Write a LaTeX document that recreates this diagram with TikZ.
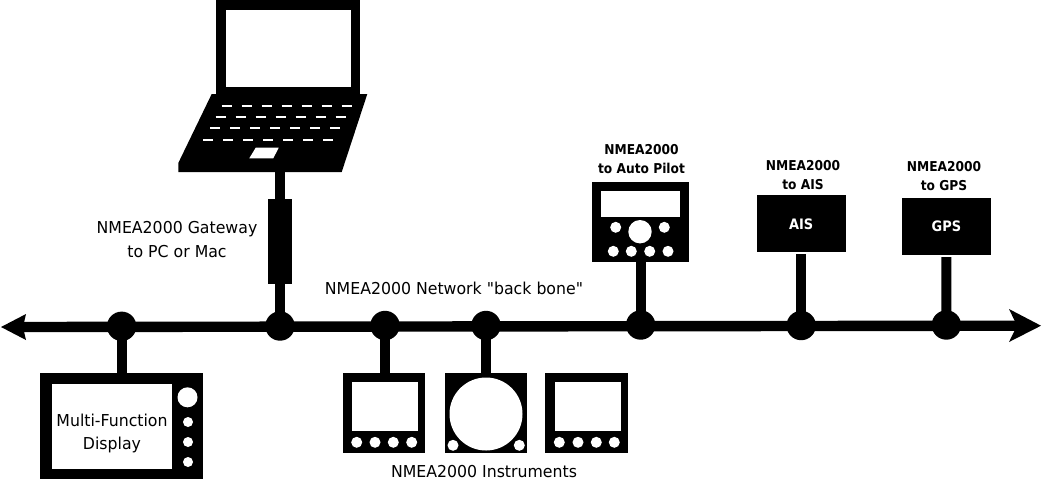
\documentclass[tikz,border=0pt]{standalone}
\usepackage{fontspec}
\setmainfont{DejaVu Sans}
\newfontfamily\lab[FakeStretch=0.96]{DejaVu Sans}
\newfontfamily\blab[FakeStretch=0.9]{DejaVu Sans Bold}
\tikzset{
  blk/.style={fill=black,draw=none,inner sep=0pt,outer sep=0pt},
  wht/.style={fill=white,draw=none,inner sep=0pt,outer sep=0pt},
  bus/.style={line width=7.4pt,draw=black,line cap=butt},
  busmain/.style={line width=7.8pt,draw=black,line cap=butt},
  key/.style={draw=white,line width=1.5pt},
  label/.style={font=\lab\fontsize{12.3}{17.3}\selectfont,align=center,inner sep=0pt,text=black},
  blabel/.style={font=\blab\fontsize{10.2}{14.2}\selectfont,align=center,inner sep=0pt,text=black},
}
\newcommand{\namedbox}[7][]{\node[rectangle,#2,minimum width={(#6-(#4))*0.75pt},minimum height={(#7-(#5))*0.75pt}] (#3) at ({(#4+#6)/2},{(#5+#7)/2}) {#1};}
\newcommand{\rnd}[5]{\node[circle,#1,minimum size={2*(#5)*0.75pt}] (#2) at (#3,#4) {};}
\begin{document}
\begin{tikzpicture}[x=0.75pt,y=-0.75pt]
\useasboundingbox (0,0) rectangle (1042,480);
\fill[white] (0,0) rectangle (1042,480);
\begin{scope}
\clip (0,0) rectangle (1042,480);
% backbone
\coordinate (busL) at (20,327);
\coordinate (busR) at (1022,325.7);
\draw[busmain] (busL) -- (busR);
\fill[black] (1,327) -- (26,314) -- (23,327) -- (26,340) -- cycle;
\fill[black] (1041,325.7) -- (1009,309) -- (1017,325.7) -- (1009,342) -- cycle;
% junctions
\rnd{blk}{j1}{121.65}{326.3}{14.7}
\rnd{blk}{j2}{280}{326}{14.7}
\rnd{blk}{j3}{385}{325.5}{14.7}
\rnd{blk}{j4}{486}{325.5}{14.7}
\rnd{blk}{j5}{640.65}{325}{14.7}
\rnd{blk}{j6}{801.2}{325.5}{14.7}
\rnd{blk}{j7}{946.35}{325}{14.7}
% multi-function display
\namedbox{blk}{mfd}{40}{373.3}{203.3}{479}
\namedbox{wht}{mfdscr}{51.7}{384.3}{172.3}{469.3}
\rnd{wht}{mfda}{187.5}{397.3}{10}
\rnd{wht}{mfdb}{188}{422}{5}
\rnd{wht}{mfdc}{188}{442}{5}
\rnd{wht}{mfdd}{188}{462}{5}
\node[label] (mfdtxt) at (112,433) {Multi-Function\\Display};
% instrument 1
\namedbox{blk}{insta}{342.7}{373.3}{425.3}{453.3}
\namedbox{wht}{instascr}{351.7}{382.3}{418}{431}
\rnd{wht}{ia1}{356.7}{442.3}{5.5}
\rnd{wht}{ia2}{375}{442.3}{5.5}
\rnd{wht}{ia3}{393.3}{442.3}{5.5}
\rnd{wht}{ia4}{411.7}{442.3}{5.5}
% instrument 2
\namedbox{blk}{instb}{444.7}{373.3}{527.3}{453.3}
\rnd{wht}{ibbig}{486}{414}{36.5}
\rnd{wht}{ib1}{453}{445.3}{5.5}
\rnd{wht}{ib2}{519.3}{445.3}{5.5}
% instrument 3
\namedbox{blk}{instc}{545.3}{373.3}{628.3}{453.3}
\namedbox{wht}{instcscr}{554.7}{382.3}{621}{431}
\rnd{wht}{ic1}{559.3}{442.3}{5.5}
\rnd{wht}{ic2}{578}{442.3}{5.5}
\rnd{wht}{ic3}{596.3}{442.3}{5.5}
\rnd{wht}{ic4}{614.3}{442.3}{5.5}
% autopilot
\namedbox{blk}{ap}{592.3}{182.3}{689}{262.3}
\namedbox{wht}{apscr}{601.3}{191}{680}{216.7}
\rnd{wht}{apbig}{640}{231.7}{11.7}
\rnd{wht}{apl}{615.7}{227.3}{5.5}
\rnd{wht}{apr}{664.3}{227.3}{5.5}
\rnd{wht}{ap1}{613.3}{251.3}{5.5}
\rnd{wht}{ap2}{631.3}{251.3}{5.5}
\rnd{wht}{ap3}{649.7}{251.3}{5.5}
\rnd{wht}{ap4}{668}{251.3}{5.5}
% AIS, GPS
\namedbox[\color{white}\blab\fontsize{10.8}{12}\selectfont AIS]{blk}{ais}{756.7}{195.3}{845.7}{252.3}
\namedbox[\color{white}\blab\fontsize{10.8}{12}\selectfont GPS]{blk}{gps}{902}{197.7}{990.7}{255}
% laptop
\namedbox{blk}{lid}{215.7}{-5}{360}{94}
\namedbox{wht}{lidscr}{226.3}{9.7}{351.3}{86.7}
\fill[black] (211.7,94) -- (367.3,94) -- (341.7,172) -- (178.3,172) -- (178.3,163) -- cycle;
\foreach \xs/\yy in {221.7/106.3,215.7/117.3,210/128.3,203.3/139.7}
  \foreach \k in {0,...,6}
    \draw[key] ({\xs+20*\k},\yy) -- ({\xs+20*\k+10},\yy);
\fill[white] (255.7,147.7) -- (278.7,147.7) -- (273.3,158.3) -- (249.3,158.3) -- cycle;
\coordinate (lapbase) at (280,171);
\namedbox{blk}{gw}{268}{199}{292}{284}
% connectors
\draw[bus] (j1.center) -- (mfd.north);
\draw[bus] (lapbase) -- (gw.north);
\draw[bus] (gw.south) -- (j2.center);
\draw[bus] (j3.center) -- (j3 |- insta.north);
\draw[bus] (j4.center) -- (instb.north);
\draw[bus] (ap.south) -- (j5.center);
\draw[bus,shorten <=1.5pt] (ais.south) -- (j6.center);
\draw[bus,shorten <=1.5pt] (gps.south) -- (j7.center);
% labels
\node[label] (gwl) at (177,239.5) {NMEA2000 Gateway\\to PC or Mac};
\node[label] (bbl) at (454,288) {NMEA2000 Network "back bone"};
\node[label,anchor=base] (insl) at (484,477.5) {NMEA2000 Instruments};
\node[blabel] (apl2) at (641.5,159.5) {NMEA2000\\to Auto Pilot};
\node[blabel] (aisl) at (803,175) {NMEA2000\\to AIS};
\node[blabel] (gpsl) at (944,176.5) {NMEA2000\\to GPS};
\end{scope}
\end{tikzpicture}
\end{document}
